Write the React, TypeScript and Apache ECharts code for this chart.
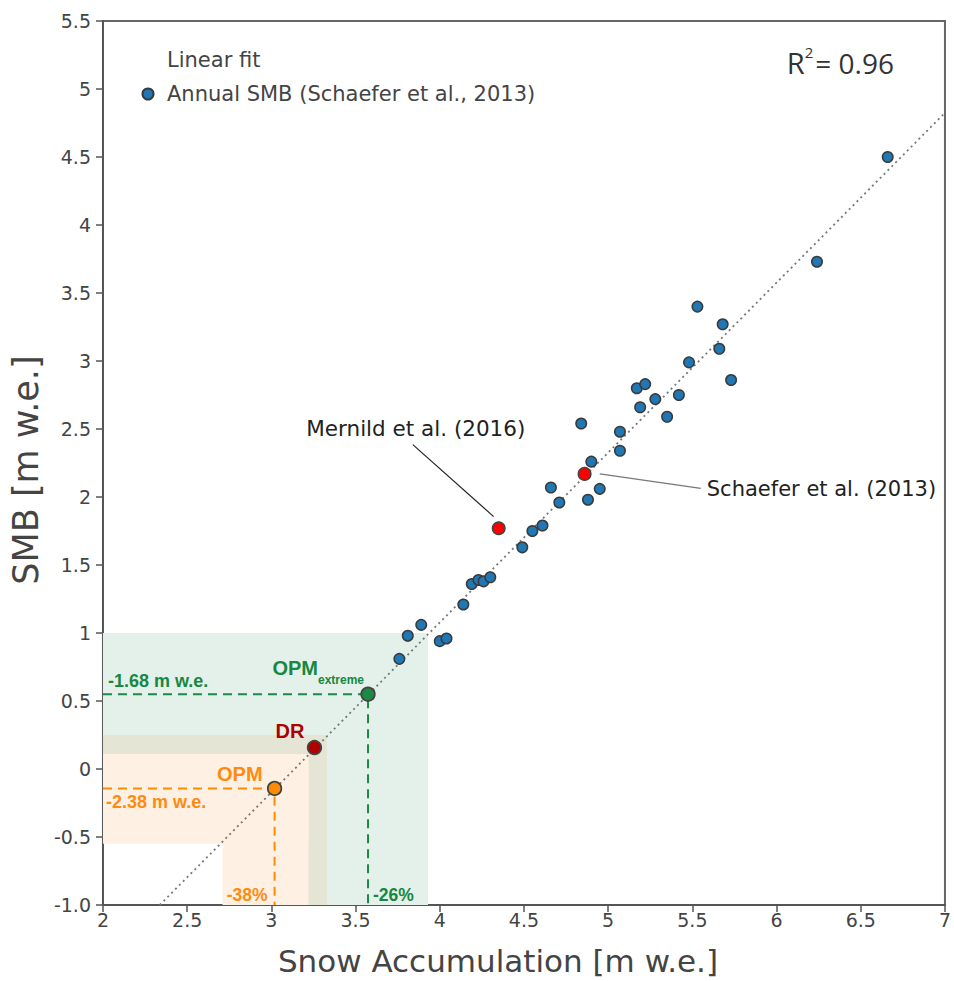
import { useEffect, useRef } from 'react';
import * as echarts from 'echarts';

const FONT = 'DejaVu Sans';
const BOLD_FONT = 'Liberation Sans';
const R2_FONT = 'Open Sans';

// Annual SMB (Schaefer et al., 2013): snow accumulation vs SMB [m w.e.]
const smbAccum = [6.66, 6.24, 5.53, 5.68, 5.66, 5.48, 5.73, 5.17, 5.22, 5.28, 5.19, 5.42, 5.35, 4.84, 5.07, 5.07, 4.90, 4.95, 4.88, 4.66, 4.71, 4.55, 4.61, 4.49, 4.19, 4.23, 4.26, 4.30, 4.14, 3.89, 3.81, 4.00, 4.04, 3.76];
const smbValue = [4.50, 3.73, 3.40, 3.27, 3.09, 2.99, 2.86, 2.80, 2.83, 2.72, 2.66, 2.75, 2.59, 2.54, 2.48, 2.34, 2.26, 2.06, 1.98, 2.07, 1.96, 1.75, 1.79, 1.63, 1.36, 1.39, 1.38, 1.41, 1.21, 1.06, 0.98, 0.94, 0.96, 0.81];

// Linear fit end points
const fitAccum = [2.337, 7.0];
const fitSmb = [-1.0, 4.825];
const fitR2 = '0.96';

// Reference studies
const refNames = ['Schaefer et al. (2013)', 'Mernild et al. (2016)'];
const refAccum = [4.86, 4.35];
const refSmb = [2.17, 1.77];
const refFontSize = [21, 21.5];
const leaderFromAccum = [4.95, 3.84];
const leaderFromSmb = [2.17, 2.385];
const leaderToAccum = [5.55, 4.32];
const leaderToSmb = [2.063, 1.856];

// Scenarios
const scenarioNames = ['OPM', 'DR', 'OPM'];
const scenarioSub = ['', '', 'extreme'];
const scenarioAccum = [3.019, 3.256, 3.574];
const scenarioSmb = [-0.143, 0.158, 0.55];
const scenarioColors = ['#ff8c00', '#b00000', '#1a8a45'];
const scenarioTextColors = ['#ff8a10', '#b00000', '#18873f'];
const smbChangeLabels = ['-2.38 m w.e.', '', '-1.68 m w.e.'];
const accumChangeLabels = ['-38%', '', '-26%'];

// Uncertainty ranges per scenario
const rangeAccumLow = [2.71, 3.2, 3.22];
const rangeAccumHigh = [3.22, 3.33, 3.93];
const rangeSmbLow = [-0.55, 0.06, 0.11];
const rangeSmbHigh = [0.11, 0.25, 1.0];
const rangeColors = ['#fef1e3', '#e4e5d5', '#e4f1ea'];

const X_MIN = 2;
const X_MAX = 7;
const Y_MIN = -1;
const Y_MAX = 5.5;
const STEP = 0.5;

function buildOption(): echarts.EChartsOption {
  const areas: any[] = [];
  [2, 1, 0].forEach((i) => {
    const style = { color: rangeColors[i], opacity: 1 };
    areas.push([
      { coord: [X_MIN, rangeSmbLow[i]], itemStyle: style },
      { coord: [rangeAccumHigh[i], rangeSmbHigh[i]] },
    ]);
    areas.push([
      { coord: [rangeAccumLow[i], Y_MIN], itemStyle: style },
      { coord: [rangeAccumHigh[i], rangeSmbHigh[i]] },
    ]);
  });

  const dashSeries: any[] = [0, 2].map((i) => ({
    type: 'line',
    name: 'guide' + i,
    silent: true,
    symbol: 'none',
    z: 2,
    data: [
      [X_MIN, scenarioSmb[i]],
      [scenarioAccum[i], scenarioSmb[i]],
      [scenarioAccum[i], Y_MIN],
    ],
    lineStyle: { color: scenarioColors[i], width: 2, type: [9, 6] },
    markArea: i === 0 ? { silent: true, z: 1, data: areas } : undefined,
  }));

  const labels: any[] = [];
  const mk = (value: number[], text: string, color: string, font: string, size: number, weight: any, align: string, offset: number[], rich?: any) => ({
    value,
    symbolSize: 0,
    label: {
      show: true,
      position: 'inside',
      formatter: text,
      color,
      opacity: 1,
      fontFamily: font,
      fontSize: size,
      fontWeight: weight,
      align,
      verticalAlign: 'middle',
      offset,
      rich,
    },
  });
  // scenario names
  labels.push(mk([scenarioAccum[0], scenarioSmb[0]], scenarioNames[0], scenarioTextColors[0], BOLD_FONT, 20, 'bold', 'right', [-12, -14]));
  labels.push(mk([scenarioAccum[1], scenarioSmb[1]], scenarioNames[1], scenarioTextColors[1], BOLD_FONT, 20, 'bold', 'right', [-10, -17]));
  labels.push(
    mk([scenarioAccum[2], scenarioSmb[2]], '{a|' + scenarioNames[2] + '}{b|' + scenarioSub[2] + '}', scenarioTextColors[2], BOLD_FONT, 20, 'bold', 'right', [-4, -22], {
      a: { fontFamily: BOLD_FONT, fontSize: 20, fontWeight: 'bold', color: scenarioTextColors[2], lineHeight: 20, verticalAlign: 'top' },
      b: { fontFamily: BOLD_FONT, fontSize: 12, fontWeight: 'bold', color: scenarioTextColors[2], lineHeight: 28, verticalAlign: 'bottom' },
    })
  );
  // SMB change labels
  labels.push(mk([X_MIN, scenarioSmb[2]], smbChangeLabels[2], scenarioTextColors[2], BOLD_FONT, 18, 'bold', 'left', [5, -13]));
  labels.push(mk([X_MIN, scenarioSmb[0]], smbChangeLabels[0], scenarioTextColors[0], BOLD_FONT, 18, 'bold', 'left', [3, 14]));
  // accumulation change labels
  labels.push(mk([scenarioAccum[0], Y_MIN], accumChangeLabels[0], scenarioTextColors[0], BOLD_FONT, 17.5, 'bold', 'right', [-7, -10]));
  labels.push(mk([scenarioAccum[2], Y_MIN], accumChangeLabels[2], scenarioTextColors[2], BOLD_FONT, 17.5, 'bold', 'left', [5, -10]));
  // reference labels
  labels.push(mk([leaderToAccum[0], leaderToSmb[0]], refNames[0], '#222', FONT, refFontSize[0], 'normal', 'left', [6, 1]));
  labels.push(mk([leaderFromAccum[1], leaderFromSmb[1]], refNames[1], '#222', FONT, refFontSize[1], 'normal', 'center', [3, -16]));

  return {
    animation: false,
    backgroundColor: '#ffffff',
    textStyle: { fontFamily: FONT },
    grid: { left: 101, right: 6, top: 21, bottom: 75, show: true, borderColor: '#666', borderWidth: 2, backgroundColor: 'transparent' },
    legend: {
      orient: 'vertical',
      left: 134,
      top: 48,
      padding: 0,
      itemWidth: 28,
      itemHeight: 11,
      itemGap: 10,
      selectedMode: false,
      textStyle: { fontFamily: FONT, fontSize: 21, color: '#444', lineHeight: 24 },
      data: [
        { name: 'Linear fit', icon: 'none' },
        { name: 'Annual SMB (Schaefer et al., 2013)', icon: 'circle' },
      ],
    },
    xAxis: {
      type: 'value',
      min: X_MIN,
      max: X_MAX,
      interval: STEP,
      name: 'Snow Accumulation [m w.e.]',
      nameLocation: 'middle',
      nameGap: 40,
      nameTextStyle: { fontFamily: FONT, fontSize: 31, color: '#444', padding: [0, 52, 0, 0] },
      splitLine: { show: false },
      axisLine: { onZero: false, lineStyle: { color: '#555', width: 2 } },
      axisTick: { show: true, inside: false, length: 7, lineStyle: { color: '#555', width: 1.5 } },
      axisLabel: { fontFamily: FONT, fontSize: 19, color: '#444', margin: 5 },
    },
    yAxis: {
      type: 'value',
      min: Y_MIN,
      max: Y_MAX,
      interval: STEP,
      name: 'SMB [m w.e.]',
      nameLocation: 'middle',
      nameGap: 56,
      nameTextStyle: { fontFamily: FONT, fontSize: 35, color: '#444', padding: [0, 14, 0, 0] },
      splitLine: { show: false },
      axisLine: { onZero: false, lineStyle: { color: '#555', width: 2 } },
      axisTick: { show: true, inside: false, length: 7, lineStyle: { color: '#555', width: 1.5 } },
      axisLabel: {
        fontFamily: FONT,
        fontSize: 19,
        color: '#444',
        margin: 12,
        formatter: (v: number) => (v === Y_MIN ? Y_MIN.toFixed(1) : String(v)),
      },
    },
    graphic: [
      {
        type: 'text',
        right: 60,
        top: 44,
        style: {
          text: '{r|R}{s|2}{e|= ' + fitR2 + '}',
          rich: {
            r: { fontFamily: R2_FONT, fontSize: 29, fill: '#333', verticalAlign: 'bottom', lineHeight: 33 },
            s: { fontFamily: R2_FONT, fontSize: 15, fill: '#333', verticalAlign: 'top', lineHeight: 20, padding: [0, 2, 0, 0] },
            e: { fontFamily: R2_FONT, fontSize: 28, fill: '#333', verticalAlign: 'bottom', lineHeight: 33 },
          },
        },
      },
    ],
    series: [
      ...dashSeries,
      {
        type: 'line',
        name: 'Linear fit',
        silent: true,
        symbol: 'none',
        z: 3,
        data: fitAccum.map((x, i) => [x, fitSmb[i]]),
        lineStyle: { color: '#777', width: 1.8, type: [2, 3.5] },
      },
      {
        type: 'scatter',
        name: 'Annual SMB (Schaefer et al., 2013)',
        silent: true,
        z: 4,
        symbol: 'circle',
        symbolSize: 10.5,
        data: smbAccum.map((x, i) => [x, smbValue[i]]),
        itemStyle: { color: '#1f77b4', borderColor: '#3a3a3a', borderWidth: 1.5, opacity: 1 },
      },
      {
        type: 'scatter',
        name: 'refs',
        silent: true,
        z: 5,
        symbol: 'circle',
        symbolSize: 12.5,
        data: refAccum.map((x, i) => [x, refSmb[i]]),
        itemStyle: { color: '#ff0000', borderColor: '#444', borderWidth: 1.5, opacity: 1 },
        markLine: {
          silent: true,
          symbol: ['none', 'none'],
          label: { show: false },
          data: refNames.map((_, i) => [
            { coord: [leaderFromAccum[i], leaderFromSmb[i]], lineStyle: { color: i === 0 ? '#777' : '#222', width: 1.2, type: 'solid' } },
            { coord: [leaderToAccum[i], leaderToSmb[i]] },
          ]),
        },
      },
      {
        type: 'scatter',
        name: 'scenarios',
        silent: true,
        z: 6,
        symbol: 'circle',
        symbolSize: 13.5,
        data: scenarioAccum.map((x, i) => ({ value: [x, scenarioSmb[i]], itemStyle: { color: scenarioColors[i] } })),
        itemStyle: { borderColor: '#444', borderWidth: 1.8, opacity: 1 },
      },
      {
        type: 'scatter',
        name: 'annotations',
        silent: true,
        clip: false,
        z: 7,
        itemStyle: { opacity: 1 },
        data: labels,
      },
    ],
  };
}

export default function App() {
  const ref = useRef<HTMLDivElement>(null);
  useEffect(() => {
    if (!ref.current) return;
    const chart = echarts.init(ref.current, null, { renderer: 'svg' });
    chart.setOption(buildOption());
    return () => chart.dispose();
  }, []);
  return <div ref={ref} style={{ position: 'fixed', left: 0, top: 0, width: 954, height: 981 }} />;
}
